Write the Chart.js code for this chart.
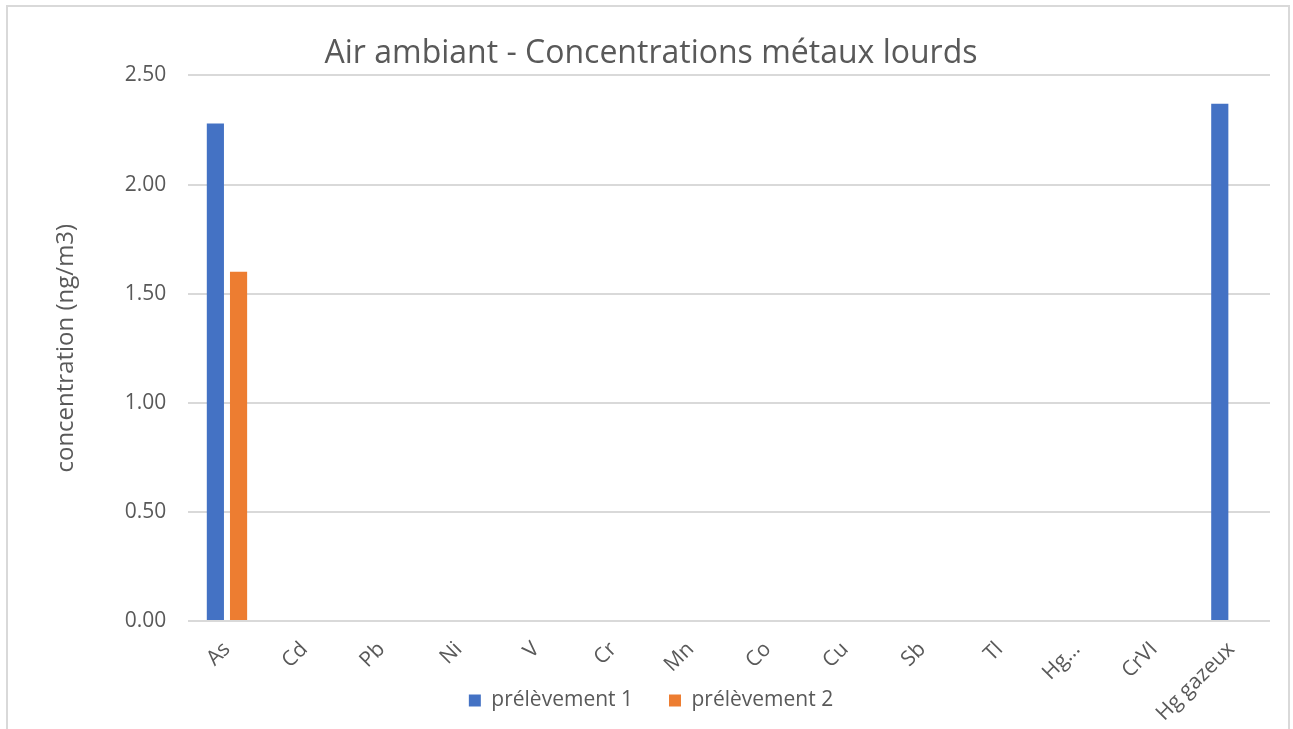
<!DOCTYPE html>
<html>
<head>
<meta charset="utf-8">
<script src="https://cdn.jsdelivr.net/npm/chart.js@4/dist/chart.umd.min.js"></script>
<style>
  html, body { margin: 0; padding: 0; background: #ffffff; }
  #wrap { position: relative; width: 1293px; height: 729px; overflow: hidden; }
  #frame { position: absolute; left: 6px; top: 5px; width: 1284px; height: 760px; border: 2px solid #d9d9d9; pointer-events: none; box-sizing: border-box; }
  canvas { position: absolute; left: 0; top: 0; }
</style>
</head>
<body>
<div id="wrap">
  <canvas id="c" width="1293" height="729"></canvas>
  <div id="frame"></div>
</div>
<script>
const titleText = "Air ambiant - Concentrations métaux lourds";
const yAxisTitle = "concentration (ng/m3)";
const categories = ["As", "Cd", "Pb", "Ni", "V", "Cr", "Mn", "Co", "Cu", "Sb", "Tl", "Hg…", "CrVI", "Hg gazeux"];
const seriesNames = ["prélèvement 1", "prélèvement 2"];
const prelevement1 = [2.28, null, null, null, null, null, null, null, null, null, null, null, null, 2.37];
const prelevement2 = [1.60, null, null, null, null, null, null, null, null, null, null, null, null, null];
const yTicks = [0, 0.5, 1.0, 1.5, 2.0, 2.5];

const FONT = "'Open Sans', 'Noto Sans', sans-serif";
const GREY = "#595959";

// let rotated x labels overflow below the (shortened) x-axis box
const unclipXLabels = {
  id: "unclipXLabels",
  beforeDraw(chart) {
    const x = chart.scales.x;
    if (x) { x.bottom = chart.height; }
  }
};

new Chart(document.getElementById("c"), {
  type: "bar",
  data: {
    labels: categories,
    datasets: [
      { label: seriesNames[0], data: prelevement1, backgroundColor: "#4472C4", categoryPercentage: 0.6, barPercentage: 0.74 },
      { label: seriesNames[1], data: prelevement2, backgroundColor: "#ED7D31", categoryPercentage: 0.6, barPercentage: 0.74 }
    ]
  },
  plugins: [unclipXLabels],
  options: {
    responsive: false,
    animation: false,
    layout: { padding: { left: 32, right: 23, top: 0, bottom: 8 } },
    plugins: {
      title: {
        display: true,
        text: titleText,
        color: GREY,
        font: { family: FONT, size: 32, weight: "normal" },
        padding: { top: 35, bottom: 2 }
      },
      legend: {
        display: true,
        position: "bottom",
        labels: {
          color: GREY,
          font: { family: FONT, size: 21 },
          boxWidth: 12,
          boxHeight: 12,
          padding: 36
        }
      },
      tooltip: { enabled: false }
    },
    scales: {
      x: {
        grid: { display: false },
        border: { display: false },
        ticks: {
          color: GREY,
          font: { family: FONT, size: 21 },
          minRotation: 45,
          maxRotation: 45,
          autoSkip: false,
          padding: 8
        },
        afterFit: (scale) => { scale.height = 33; }
      },
      y: {
        min: 0,
        max: 2.5,
        afterBuildTicks: (scale) => { scale.ticks = yTicks.map(v => ({ value: v })); },
        grid: { color: "#d9d9d9", lineWidth: 2, drawTicks: false },
        border: { display: false },
        ticks: {
          color: GREY,
          font: { family: FONT, size: 21 },
          padding: 22,
          callback: (v) => Number(v).toFixed(2)
        },
        title: {
          display: true,
          text: yAxisTitle,
          color: GREY,
          font: { family: FONT, size: 24 },
          padding: { top: 20, bottom: 22 }
        }
      }
    }
  }
});
</script>
</body>
</html>
